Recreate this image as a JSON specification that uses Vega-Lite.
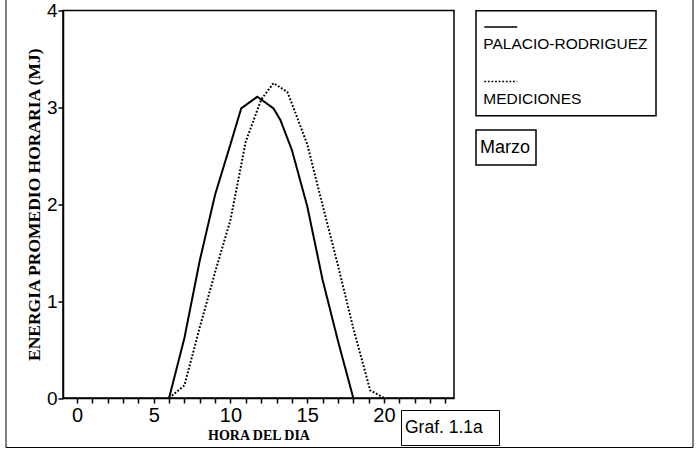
{
  "$schema": "https://vega.github.io/schema/vega-lite/v6.json",
  "width": 391,
  "height": 387.5,
  "autosize": {"type": "none"},
  "padding": {"left": 63, "top": 10.5, "right": 243, "bottom": 59},
  "background": "white",
  "config": {
    "font": "Liberation Sans",
    "view": {"stroke": "black", "strokeWidth": 1.5},
    "axis": {"domainColor": "black", "domainWidth": 1.5, "tickColor": "black", "tickWidth": 1.5, "labelColor": "black", "titleColor": "black", "grid": false}
  },
  "datasets": {
    "curvas": [
      {"serie": "PALACIO-RODRIGUEZ", "hora": 6, "energia": 0},
      {"serie": "PALACIO-RODRIGUEZ", "hora": 7, "energia": 0.62},
      {"serie": "PALACIO-RODRIGUEZ", "hora": 8, "energia": 1.42},
      {"serie": "PALACIO-RODRIGUEZ", "hora": 9, "energia": 2.1},
      {"serie": "PALACIO-RODRIGUEZ", "hora": 10, "energia": 2.62},
      {"serie": "PALACIO-RODRIGUEZ", "hora": 10.7, "energia": 2.99},
      {"serie": "PALACIO-RODRIGUEZ", "hora": 11.75, "energia": 3.11},
      {"serie": "PALACIO-RODRIGUEZ", "hora": 12.8, "energia": 2.99},
      {"serie": "PALACIO-RODRIGUEZ", "hora": 13.25, "energia": 2.87},
      {"serie": "PALACIO-RODRIGUEZ", "hora": 14, "energia": 2.56},
      {"serie": "PALACIO-RODRIGUEZ", "hora": 15, "energia": 1.98},
      {"serie": "PALACIO-RODRIGUEZ", "hora": 16, "energia": 1.22},
      {"serie": "PALACIO-RODRIGUEZ", "hora": 17, "energia": 0.59},
      {"serie": "PALACIO-RODRIGUEZ", "hora": 18, "energia": 0},
      {"serie": "MEDICIONES", "hora": 6, "energia": 0},
      {"serie": "MEDICIONES", "hora": 7, "energia": 0.13},
      {"serie": "MEDICIONES", "hora": 8, "energia": 0.73},
      {"serie": "MEDICIONES", "hora": 9, "energia": 1.3},
      {"serie": "MEDICIONES", "hora": 10, "energia": 1.84},
      {"serie": "MEDICIONES", "hora": 11, "energia": 2.65},
      {"serie": "MEDICIONES", "hora": 12, "energia": 3.08},
      {"serie": "MEDICIONES", "hora": 12.8, "energia": 3.25},
      {"serie": "MEDICIONES", "hora": 13.7, "energia": 3.16},
      {"serie": "MEDICIONES", "hora": 14, "energia": 3.04},
      {"serie": "MEDICIONES", "hora": 15, "energia": 2.62},
      {"serie": "MEDICIONES", "hora": 16, "energia": 1.99},
      {"serie": "MEDICIONES", "hora": 17, "energia": 1.37},
      {"serie": "MEDICIONES", "hora": 18, "energia": 0.72},
      {"serie": "MEDICIONES", "hora": 19.1, "energia": 0.08},
      {"serie": "MEDICIONES", "hora": 20, "energia": 0}
    ]
  },
  "data": {"name": "curvas"},
  "layer": [
    {
      "mark": {"type": "line", "strokeWidth": 2, "clip": false},
      "encoding": {
        "x": {
          "field": "hora", "type": "quantitative",
          "scale": {"domain": [-0.91, 24.56], "nice": false, "zero": false},
          "axis": {
            "orient": "bottom",
            "values": [0,1,2,3,4,5,6,7,8,9,10,11,12,13,14,15,16,17,18,19,20,21,22,23,24],
            "labelExpr": "datum.value % 5 === 0 ? datum.label : ''",
            "format": "d", "labelFlush": false, "labelOverlap": false,
            "ticks": true, "tickSize": 5, "labelPadding": 2, "labelFontSize": 20, "labelFont": "Liberation Sans",
            "title": "HORA DEL DIA", "titleFont": "Liberation Serif", "titleFontWeight": "bold", "titleFontSize": 14, "titlePadding": 3
          }
        },
        "y": {
          "field": "energia", "type": "quantitative",
          "scale": {"domain": [0, 4], "nice": false},
          "axis": {
            "orient": "left",
            "values": [0, 1, 2, 3, 4], "format": "d",
            "tickSize": 5, "labelPadding": 1, "labelFontSize": 19, "labelFont": "Liberation Sans",
            "title": "ENERGIA PROMEDIO HORARIA (MJ)", "titleFont": "Liberation Serif", "titleFontWeight": "bold", "titleFontSize": 17.5, "titlePadding": 3
          }
        },
        "strokeDash": {
          "field": "serie", "type": "nominal",
          "scale": {"domain": ["PALACIO-RODRIGUEZ", "MEDICIONES"], "range": [[1, 0], [1.8, 1.8]]},
          "legend": {
            "orient": "none", "legendX": 413, "legendY": 0.2,
            "title": " ", "titleFontSize": 6, "titlePadding": -7.2,
            "strokeColor": "black", "padding": 8,
            "symbolType": "M-2,0H2", "symbolSize": 272, "symbolOffset": 7.25,
            "symbolStrokeWidth": 1.6, "symbolStrokeColor": "black", "symbolFillColor": "transparent",
            "labelFont": "Liberation Sans", "labelFontSize": 15.5, "labelBaseline": "alphabetic",
            "labelOffset": -27, "labelColor": "black", "labelLimit": 0,
            "rowPadding": 19.5,
            "encode": {
              "labels": {"update": {"dy": {"value": 22}}},
              "legend": {"update": {"strokeWidth": {"value": 1.5}}}
            }
          }
        },
        "color": {
          "datum": "Marzo", "type": "nominal",
          "scale": {"range": ["black"]},
          "legend": {
            "orient": "none", "legendX": 413, "legendY": 119.5,
            "title": null, "strokeColor": "black", "padding": 3,
            "symbolType": "M-1,-1H2.66V1H-1Z", "symbolSize": 841, "symbolOpacity": 0, "symbolStrokeWidth": 0, "symbolOffset": 0,
            "labelFont": "Liberation Sans", "labelFontSize": 18, "labelOffset": -28, "labelBaseline": "middle", "labelColor": "black", "labelLimit": 0,
            "encode": {"legend": {"update": {"strokeWidth": {"value": 1.5}}}}
          }
        }
      }
    },
    {
      "mark": {"type": "point", "opacity": 0, "clip": false},
      "encoding": {
        "shape": {
          "datum": "Graf. 1.1a", "type": "nominal",
          "scale": {"range": ["M-1,-1H5.28V1H-1Z"]},
          "legend": {
            "orient": "none", "legendX": 338, "legendY": 399.5,
            "title": null, "strokeColor": "black", "padding": 3,
            "symbolSize": 841, "symbolOpacity": 0, "symbolStrokeWidth": 0, "symbolOffset": 0,
            "labelFont": "Liberation Sans", "labelFontSize": 17.5, "labelOffset": -28, "labelBaseline": "middle", "labelColor": "black", "labelLimit": 0,
            "encode": {"legend": {"update": {"strokeWidth": {"value": 1.5}}}}
          }
        },
        "fill": {
          "datum": "marco", "type": "nominal",
          "scale": {"range": ["transparent"]},
          "legend": {
            "orient": "none", "legendX": -57.5, "legendY": -27.5,
            "title": null, "strokeColor": "black", "padding": 0,
            "symbolType": "M-1,-1H5.865V3.64H-1Z", "symbolSize": 40000, "symbolOpacity": 0, "symbolStrokeWidth": 0, "symbolOffset": 0,
            "labelExpr": "''", "labelOpacity": 0, "labelFontSize": 1, "labelOffset": 0,
            "encode": {"legend": {"update": {"strokeWidth": {"value": 2.5}}}}
          }
        }
      }
    }
  ]
}
